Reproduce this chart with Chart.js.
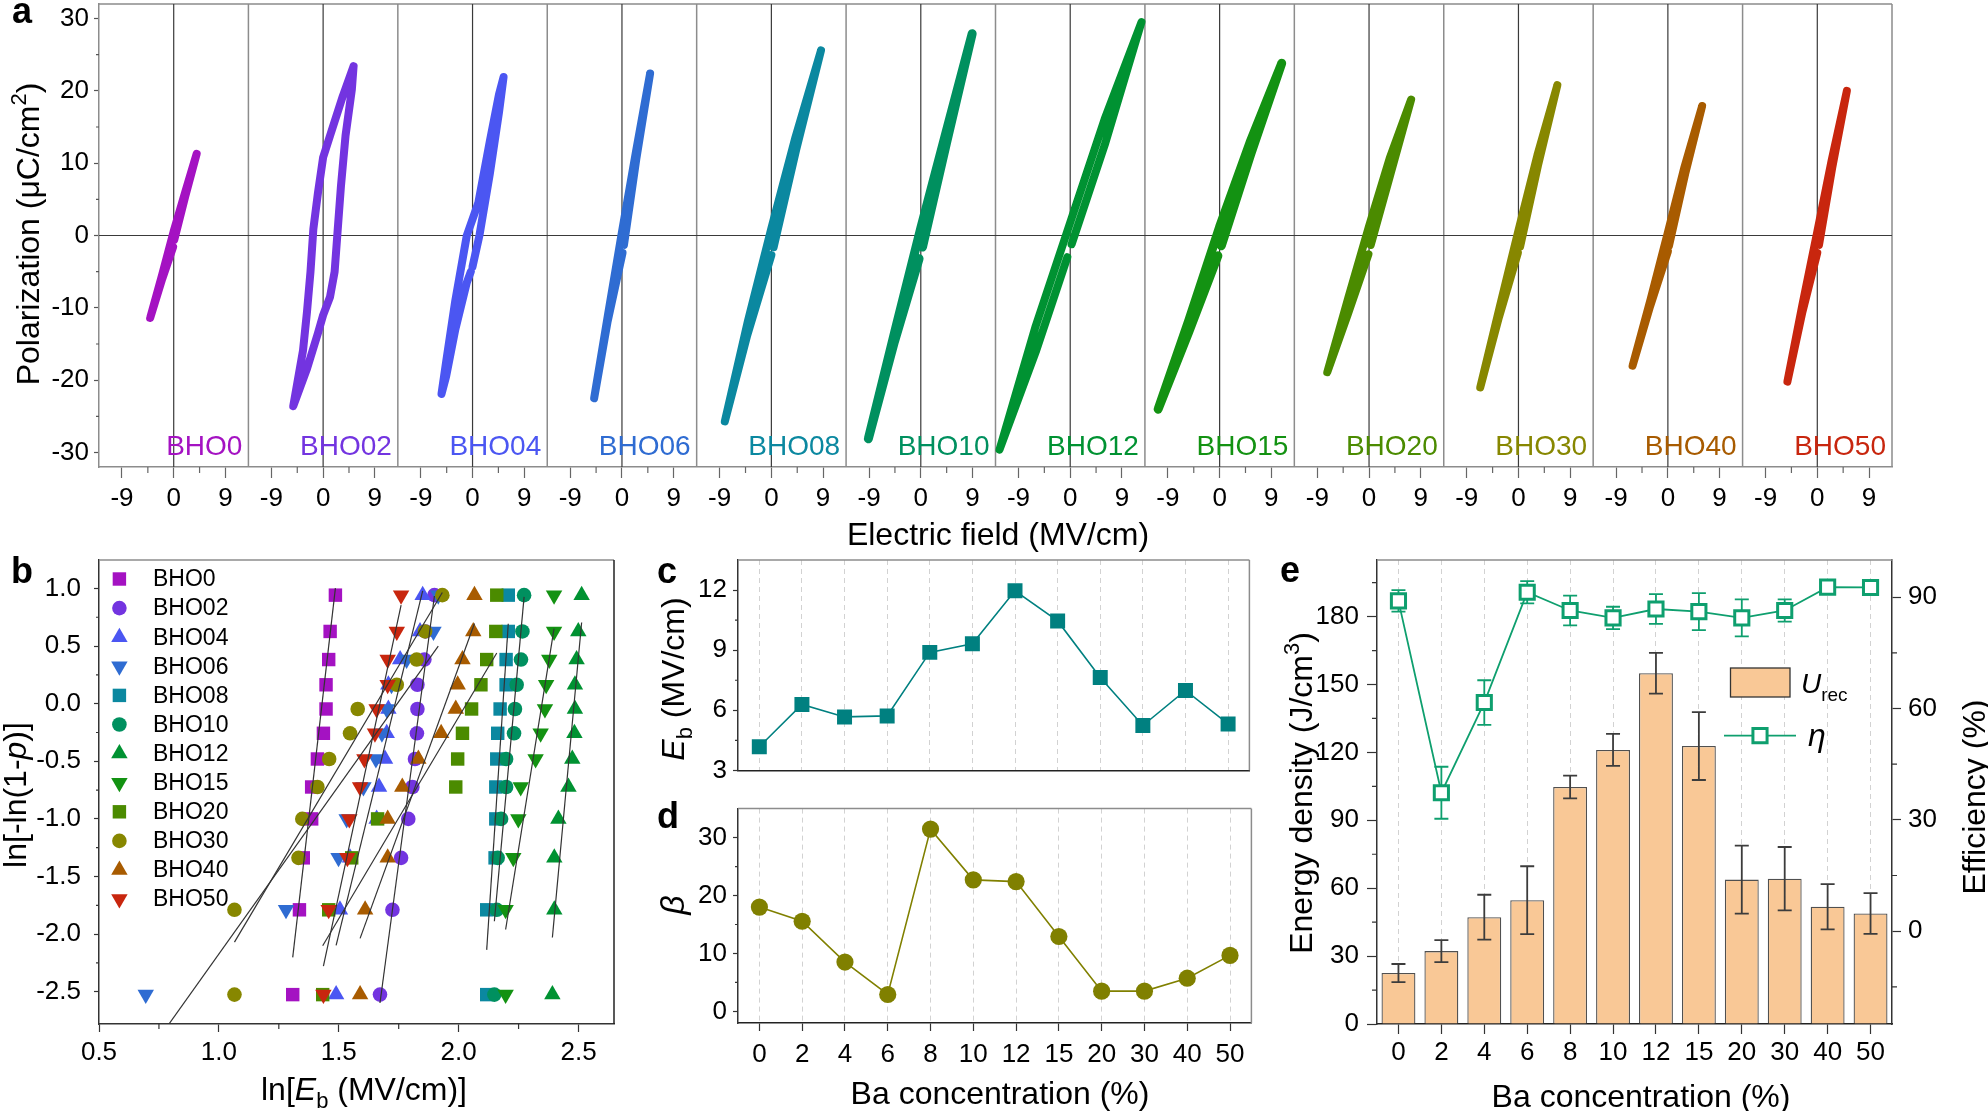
<!DOCTYPE html>
<html>
<head>
<meta charset="utf-8">
<title>BHO films</title>
<script src="https://cdn.jsdelivr.net/npm/chart.js@4.4.1/dist/chart.umd.min.js"></script>
<style>
  html, body { margin: 0; padding: 0; background: #fff; }
  #fig { position: relative; width: 1988px; height: 1111px; overflow: hidden; background: #fff; }
  #fig canvas { position: absolute; }
</style>
</head>
<body>
<div id="fig">
  <canvas id="pa" width="1900" height="560" style="left:0px;top:0px"></canvas>
  <canvas id="pb" width="625" height="566" style="left:0px;top:545px"></canvas>
  <canvas id="pc" width="640" height="236" style="left:620px;top:545px"></canvas>
  <canvas id="pd" width="640" height="311" style="left:620px;top:800px"></canvas>
  <canvas id="pe" width="728" height="566" style="left:1260px;top:545px"></canvas>
</div>
<script>
// ── Data ───────────────────────────────────────────────
const SAMPLES = ['BHO0', 'BHO02', 'BHO04', 'BHO06', 'BHO08', 'BHO10', 'BHO12', 'BHO15', 'BHO20', 'BHO30', 'BHO40', 'BHO50'];
const CONC    = ['0', '2', '4', '6', '8', '10', '12', '15', '20', '30', '40', '50'];

// P-E loops, [E (MV/cm), P (µC/cm²)] in measuring order
const peBHO0  = [[0.1, -0.6], [2.0, 5.4], [4.0, 11.3], [2.0, 6.0], [0, 0.6], [-2.0, -5.4], [-4.1, -11.4], [-2.0, -6.0], [-0.1, -1.6]];
const peBHO02 = [[5.3, 23.4], [3.4, 19.2], [1.2, 13.8], [0, 10.8], [-0.9, 5.9], [-1.7, 0.9], [-2.2, -5.0], [-2.8, -10.5], [-3.5, -15.9], [-5.2, -23.6],
                 [-2.8, -18.4], [-0.9, -13.5], [0, -11.0], [1.2, -8.5], [2.0, -5.0], [2.5, 0.4], [3.1, 6.8], [3.9, 13.8], [5.0, 20.2], [5.3, 23.4]];
const peBHO04 = [[0, -4.3], [1.2, 0], [3.0, 8.5], [4.6, 17.0], [5.4, 21.9], [4.6, 19.5], [3.0, 13.0], [1.0, 4.5], [-1.0, 0], [-3.0, -9.0],
                 [-4.6, -17.5], [-5.4, -21.9], [-4.6, -19.5], [-3.0, -13.0], [-1.0, -6.5], [-0.3, -5.0]];
const peBHO06 = [[0.35, -1.3], [2.5, 10.6], [4.9, 22.4], [2.4, 11.4], [0, 0.5], [-2.4, -10.8], [-4.84, -22.5], [-2.5, -11.9], [0.1, -2.4]];
const peBHO08 = [[0.4, -1.6], [4.3, 11.8], [8.64, 25.6], [4.2, 13.6], [0, 1.0], [-4.1, -11.9], [-8.1, -25.7], [-4.2, -13.8], [0, -2.7]];
const peBHO10 = [[0.3, -1.6], [4.5, 12.9], [8.94, 27.9], [4.4, 14.3], [0, 1.0], [-4.5, -13.2], [-9.13, -28.1], [-4.6, -14.7], [-0.3, -3.2]];
const peBHO12 = [[0.25, -1.2], [6.0, 12.5], [12.4, 29.5], [6.0, 16.1], [0, 1.8], [-6.0, -12.5], [-12.3, -29.6], [-6.0, -16.1], [-0.5, -3.0]];
const peBHO15 = [[0.3, -1.4], [5.4, 11.2], [10.8, 23.8], [5.3, 12.9], [0, 1.2], [-5.3, -11.6], [-10.7, -24.0], [-5.4, -13.4], [-0.3, -2.8]];
const peBHO20 = [[0.3, -1.3], [3.7, 8.4], [7.33, 18.8], [3.6, 10.7], [0, 1.3], [-3.6, -8.6], [-7.27, -18.9], [-3.7, -10.9], [-0.1, -2.6]];
const peBHO30 = [[0.3, -1.5], [3.4, 9.7], [6.77, 20.8], [3.3, 11.1], [0, 0.7], [-3.3, -10.0], [-6.65, -21.0], [-3.4, -11.3], [-0.1, -2.4]];
const peBHO40 = [[0.2, -1.4], [3.0, 8.5], [5.96, 17.9], [2.9, 9.5], [0, 0.4], [-3.0, -8.8], [-6.14, -18.0], [-3.1, -9.8], [0, -2.2]];
const peBHO50 = [[0.3, -1.3], [2.6, 9.4], [5.15, 20.0], [2.5, 10.4], [0, 0.5], [-2.6, -9.6], [-5.2, -20.2], [-2.6, -10.6], [0, -2.4]];
const PE_LOOPS = [peBHO0, peBHO02, peBHO04, peBHO06, peBHO08, peBHO10, peBHO12, peBHO15, peBHO20, peBHO30, peBHO40, peBHO50];
const PE_TICKS = [-9, 0, 9];
const PE_MINOR = [-4.5, 4.5];
const P_TICKS  = [-30, -20, -10, 0, 10, 20, 30];
const P_MINOR  = [-25, -15, -5, 5, 15, 25];

// Weibull plot: ln[-ln(1-p)] for the 12 ranks, ln(Eb) of each sample from high to low
const WEIBULL_Y = [0.942, 0.627, 0.383, 0.164, -0.046, -0.257, -0.480, -0.723, -1.000, -1.338, -1.789, -2.525];
const wbBHO0  = [1.486, 1.464, 1.458, 1.447, 1.447, 1.436, 1.411, 1.387, 1.387, 1.352, 1.336, 1.308];
const wbBHO02 = [1.899, 1.862, 1.857, 1.828, 1.828, 1.826, 1.818, 1.807, 1.790, 1.760, 1.724, 1.672];
const wbBHO04 = [1.850, 1.839, 1.756, 1.707, 1.707, 1.700, 1.693, 1.668, 1.658, 1.547, 1.505, 1.489];
const wbBHO06 = [1.915, 1.895, 1.783, 1.720, 1.700, 1.680, 1.655, 1.603, 1.533, 1.499, 1.280, 0.695];
const wbBHO08 = [2.207, 2.207, 2.198, 2.198, 2.173, 2.163, 2.159, 2.155, 2.155, 2.152, 2.117, 2.117];
const wbBHO10 = [2.273, 2.266, 2.260, 2.242, 2.235, 2.231, 2.198, 2.198, 2.177, 2.163, 2.159, 2.149];
const wbBHO12 = [2.513, 2.499, 2.492, 2.485, 2.485, 2.483, 2.474, 2.458, 2.416, 2.399, 2.399, 2.391];
const wbBHO15 = [2.398, 2.398, 2.378, 2.365, 2.360, 2.342, 2.321, 2.259, 2.249, 2.228, 2.196, 2.196];
const wbBHO20 = [2.159, 2.155, 2.117, 2.093, 2.054, 2.016, 1.996, 1.988, 1.662, 1.554, 1.458, 1.433];
const wbBHO30 = [1.932, 1.860, 1.825, 1.742, 1.579, 1.547, 1.460, 1.411, 1.348, 1.332, 1.065, 1.065];
const wbBHO40 = [2.066, 2.061, 2.016, 1.996, 1.988, 1.927, 1.832, 1.765, 1.704, 1.704, 1.610, 1.589];
const wbBHO50 = [1.760, 1.742, 1.704, 1.704, 1.658, 1.651, 1.607, 1.589, 1.544, 1.536, 1.458, 1.436];
const WB_SETS = [wbBHO0, wbBHO02, wbBHO04, wbBHO06, wbBHO08, wbBHO10, wbBHO12, wbBHO15, wbBHO20, wbBHO30, wbBHO40, wbBHO50];
const WB_X_TICKS = [0.5, 1.0, 1.5, 2.0, 2.5];
const WB_Y_TICKS = [-2.5, -2.0, -1.5, -1.0, -0.5, 0, 0.5, 1.0];

// Weibull fit results per sample
const EB   = [4.18, 6.29, 5.67, 5.72, 8.89, 9.32, 11.96, 10.46, 7.64, 5.24, 6.99, 5.32];
const BETA = [18.0, 15.56, 8.52, 2.92, 31.46, 22.7, 22.4, 12.93, 3.5, 3.5, 5.73, 9.67];

// Energy storage
const U_REC     = [22.5, 32.2, 47.2, 54.7, 104.7, 121.1, 155.0, 122.8, 63.8, 64.2, 51.8, 48.8];
const U_REC_ERR = [4.0, 4.9, 9.9, 15.0, 5.0, 7.1, 9.0, 15.0, 15.0, 14.0, 10.0, 9.0];
const ETA       = [89.0, 37.3, 61.6, 91.3, 86.4, 84.4, 86.8, 86.1, 84.4, 86.4, 92.7, 92.6];
const ETA_ERR   = [2.9, 7.0, 6.0, 3.0, 4.0, 3.0, 4.0, 5.0, 5.0, 3.0, 1.0, 1.0];

// ── Styles ─────────────────────────────────────────────
const FONT = '"Liberation Sans", Arial, Helvetica, sans-serif';
const SAMPLE_COLORS = ['#a412c2', '#7334e0', '#4b56f2', '#2f6cd2', '#0b88a0', '#00905f',
                       '#009232', '#139212', '#4b8b00', '#878700', '#a85b00', '#c8260e'];
const LOOP_WIDTH = [8, 8, 8, 8, 8, 9, 8, 9, 8, 8, 8, 8];
const MARKERS  = [['rect', 0], ['circle', 0], ['triangle', 0], ['triangle', 180]];
const MARKER_R = { rect: 9.5, circle: 7.3, triangle: 9.5 };
const EB_COLOR   = '#008080';
const BETA_COLOR = '#808000';
const BAR_COLOR  = '#f9c896';
const ETA_COLOR  = '#0e9f6e';
const GRID_DASH  = '#d2d2d2';
const SUB_SPAN   = 26; // each P-E subplot covers -13..13 MV/cm

Chart.defaults.font.family = FONT;
Chart.defaults.font.size = 26;
Chart.defaults.color = '#000';
Chart.defaults.animation = false;
Chart.defaults.responsive = false;
Chart.defaults.devicePixelRatio = 1;
Chart.defaults.events = [];
Chart.defaults.plugins.legend.display = false;
Chart.defaults.plugins.tooltip.enabled = false;

// ── Helpers ────────────────────────────────────────────
function boxFit(size) {
  return scale => {
    if (scale.isHorizontal()) scale.height = size; else scale.width = size;
    scale.paddingLeft = scale.paddingRight = scale.paddingTop = scale.paddingBottom = 0;
  };
}
function fixedTicks(values) {
  return scale => { scale.ticks = values.map(value => ({ value })); };
}
function axisY({ min, max, ticks, width, tickLen, pad, pos = 'left', border = '#333', tick = '#333', fmt }) {
  return {
    type: 'linear', position: pos, min, max, bounds: 'data',
    afterBuildTicks: fixedTicks(ticks),
    afterFit: boxFit(width),
    border: { color: border, width: 1.5 },
    grid: { drawOnChartArea: false, tickLength: tickLen, color: tick, tickWidth: 1.2 },
    ticks: { padding: pad, callback: fmt || (v => String(v)) },
  };
}
function minorTicks(chart, axisId, values, len, color = '#333') {
  const s = chart.scales[axisId];
  const { ctx } = chart;
  ctx.save();
  ctx.strokeStyle = color; ctx.lineWidth = 1.2;
  ctx.beginPath();
  for (const v of values) {
    const p = s.getPixelForValue(v);
    if (s.isHorizontal()) { ctx.moveTo(p, s.top); ctx.lineTo(p, s.top + len); }
    else if (s.position === 'right') { ctx.moveTo(s.left, p); ctx.lineTo(s.left + len, p); }
    else { ctx.moveTo(s.right - len, p); ctx.lineTo(s.right, p); }
  }
  ctx.stroke();
  ctx.restore();
}
function frame(ctx, a, topColor, rightColor) {
  ctx.save();
  ctx.lineWidth = 1.5;
  ctx.strokeStyle = topColor;
  ctx.beginPath(); ctx.moveTo(a.left, a.top); ctx.lineTo(a.right, a.top); ctx.stroke();
  if (rightColor) {
    ctx.strokeStyle = rightColor;
    ctx.beginPath(); ctx.moveTo(a.right, a.top); ctx.lineTo(a.right, a.bottom); ctx.stroke();
  }
  ctx.restore();
}
// mixed-style text: parts are {t, it, sub, sup}; y is the cap-height centre
function rich(ctx, x, y, parts, size, { rotate = 0, align = 'center', color = '#000' } = {}) {
  const font = p => `${p.it ? 'italic ' : ''}${p.sub || p.sup ? Math.round(size * 0.68) : size}px ${FONT}`;
  ctx.save();
  ctx.translate(x, y);
  ctx.rotate(rotate);
  ctx.fillStyle = color;
  ctx.textAlign = 'left';
  ctx.textBaseline = 'alphabetic';
  let total = 0;
  for (const p of parts) { ctx.font = font(p); total += ctx.measureText(p.t).width; }
  let cx = align === 'center' ? -total / 2 : align === 'right' ? -total : 0;
  const base = size * 0.36;
  for (const p of parts) {
    ctx.font = font(p);
    const dy = p.sub ? size * 0.28 : p.sup ? -size * 0.4 : 0;
    ctx.fillText(p.t, cx, base + dy);
    cx += ctx.measureText(p.t).width;
  }
  ctx.restore();
}
function letter(ctx, ch, x, baseline) {
  ctx.save();
  ctx.font = `bold 36px ${FONT}`;
  ctx.fillStyle = '#000';
  ctx.textAlign = 'left';
  ctx.textBaseline = 'alphabetic';
  ctx.fillText(ch, x, baseline);
  ctx.restore();
}
const UP = -Math.PI / 2;

// ── a: P-E loops ───────────────────────────────────────
const peDecor = {
  id: 'peDecor',
  beforeDatasetsDraw(chart) {
    const { ctx, chartArea: a, scales: { x, y } } = chart;
    ctx.save();
    ctx.strokeStyle = '#8c8c8c'; ctx.lineWidth = 1.5;
    ctx.beginPath();
    for (let i = 1; i <= SAMPLES.length; i++) {
      const px = x.getPixelForValue(i * SUB_SPAN);
      ctx.moveTo(px, a.top); ctx.lineTo(px, a.bottom);
    }
    ctx.moveTo(a.left, a.top); ctx.lineTo(a.right, a.top);
    ctx.stroke();
    ctx.strokeStyle = '#3a3a3a'; ctx.lineWidth = 1.2;
    ctx.beginPath();
    for (let i = 0; i < SAMPLES.length; i++) {
      const px = x.getPixelForValue(i * SUB_SPAN + SUB_SPAN / 2);
      ctx.moveTo(px, a.top); ctx.lineTo(px, a.bottom);
    }
    const py = y.getPixelForValue(0);
    ctx.moveTo(a.left, py); ctx.lineTo(a.right, py);
    ctx.stroke();
    ctx.restore();
  },
  afterDraw(chart) {
    const { ctx, chartArea: a, scales: { x } } = chart;
    minorTicks(chart, 'x', SAMPLES.flatMap((_, i) => PE_MINOR.map(v => i * SUB_SPAN + SUB_SPAN / 2 + v)), 6, '#666');
    minorTicks(chart, 'y', P_MINOR, 3, '#555');
    ctx.save();
    ctx.font = `28px ${FONT}`;
    ctx.textAlign = 'right';
    ctx.textBaseline = 'alphabetic';
    SAMPLES.forEach((name, i) => {
      ctx.fillStyle = SAMPLE_COLORS[i];
      ctx.fillText(name, x.getPixelForValue((i + 1) * SUB_SPAN) - 6, a.bottom - 12);
    });
    ctx.restore();
    rich(ctx, 27, 234, [{ t: 'Polarization (\u03bcC/cm' }, { t: '2', sup: true }, { t: ')' }], 32, { rotate: UP });
    rich(ctx, 998, 533, [{ t: 'Electric field (MV/cm)' }], 32);
    letter(ctx, 'a', 12, 23);
  },
};

new Chart(document.getElementById('pa'), {
  type: 'line',
  data: {
    datasets: PE_LOOPS.map((loop, i) => ({
      data: loop.map(([e, p]) => ({ x: i * SUB_SPAN + SUB_SPAN / 2 + e, y: p })),
      borderColor: SAMPLE_COLORS[i],
      borderWidth: LOOP_WIDTH[i],
      borderCapStyle: 'round',
      borderJoinStyle: 'round',
      pointRadius: 0,
      fill: false,
    })),
  },
  options: {
    layout: { padding: { left: 0, right: 8, top: 4, bottom: 0 } },
    scales: {
      x: {
        type: 'linear', min: 0, max: SUB_SPAN * SAMPLES.length, bounds: 'data',
        afterBuildTicks: s => {
          s.ticks = SAMPLES.flatMap((_, i) => PE_TICKS.map(v => ({ value: i * SUB_SPAN + SUB_SPAN / 2 + v })));
        },
        afterFit: boxFit(93),
        border: { color: '#8c8c8c', width: 1.5 },
        grid: { drawOnChartArea: false, tickLength: 11, color: '#666', tickWidth: 1.2 },
        ticks: {
          padding: 5, autoSkip: false, maxRotation: 0, minRotation: 0,
          callback: v => String(Math.round(v - Math.floor(v / SUB_SPAN) * SUB_SPAN - SUB_SPAN / 2)),
        },
      },
      y: axisY({ min: -32, max: 32, ticks: P_TICKS, width: 99, tickLen: 5, pad: 5, border: '#8c8c8c', tick: '#555' }),
    },
  },
  plugins: [peDecor],
});

// ── b: Weibull plot ────────────────────────────────────
const wbDecor = {
  id: 'wbDecor',
  afterDraw(chart) {
    const { ctx, chartArea: a } = chart;
    frame(ctx, a, '#8c8c8c', '#222');
    minorTicks(chart, 'x', [0.75, 1.25, 1.75, 2.25], 5);
    minorTicks(chart, 'y', [-2.25, -1.75, -1.25, -0.75, -0.25, 0.25, 0.75], 3);
    SAMPLES.forEach((name, i) => {
      const [style, rot] = MARKERS[i % 4];
      const yy = 34 + i * 29.1;
      ctx.save();
      ctx.fillStyle = SAMPLE_COLORS[i];
      Chart.helpers.drawPoint(ctx, { pointStyle: style, rotation: rot, radius: MARKER_R[style], borderWidth: 0 }, 119.4, yy);
      ctx.font = `23px ${FONT}`;
      ctx.fillStyle = '#000';
      ctx.textAlign = 'left';
      ctx.textBaseline = 'middle';
      ctx.fillText(name, 153, yy + 1);
      ctx.restore();
    });
    rich(ctx, 14, 250, [{ t: 'ln[-ln(1-' }, { t: 'p', it: true }, { t: ')]' }], 32, { rotate: UP });
    rich(ctx, 364, 543, [{ t: 'ln[' }, { t: 'E', it: true }, { t: 'b', sub: true }, { t: ' (MV/cm)]' }], 32);
    letter(ctx, 'b', 11, 38);
  },
};

new Chart(document.getElementById('pb'), {
  type: 'scatter',
  data: {
    datasets: [
      ...WB_SETS.map((xs, i) => {
        const lo = Math.min(...xs), hi = Math.max(...xs), c = Math.log(EB[i]);
        return {
          data: [{ x: lo, y: BETA[i] * (lo - c) }, { x: hi, y: BETA[i] * (hi - c) }],
          showLine: true, pointRadius: 0, borderColor: '#333', borderWidth: 1.2, order: 0,
        };
      }),
      ...WB_SETS.map((xs, i) => {
        const [style, rot] = MARKERS[i % 4];
        return {
          data: xs.map((v, k) => ({ x: v, y: WEIBULL_Y[k] })),
          pointStyle: style, pointRotation: rot, pointRadius: MARKER_R[style],
          pointBackgroundColor: SAMPLE_COLORS[i], pointBorderWidth: 0,
          order: SAMPLES.length - i,
        };
      }),
    ],
  },
  options: {
    layout: { padding: { left: 0, right: 11, top: 15, bottom: 0 } },
    scales: {
      x: {
        type: 'linear', min: 0.5, max: 2.648, bounds: 'data',
        afterBuildTicks: fixedTicks(WB_X_TICKS),
        afterFit: boxFit(87),
        border: { color: '#333', width: 1.5 },
        grid: { drawOnChartArea: false, tickLength: 8, color: '#333', tickWidth: 1.2 },
        ticks: { padding: 5, maxRotation: 0, callback: v => v.toFixed(1) },
      },
      y: axisY({ min: -2.78, max: 1.247, ticks: WB_Y_TICKS, width: 99, tickLen: 5, pad: 13, fmt: v => v.toFixed(1) }),
    },
  },
  plugins: [wbDecor],
});

// ── c: breakdown strength ──────────────────────────────
function catAxis({ height, labels, tickLen = 0, pad = 3 }) {
  return {
    type: 'category', offset: true,
    afterFit: boxFit(height),
    border: { color: '#222', width: 1.5, dash: [5, 4] },
    grid: { offset: false, color: GRID_DASH, lineWidth: 1, drawTicks: tickLen > 0, tickLength: tickLen, tickColor: '#333', tickWidth: 1.2 },
    ticks: { display: labels, padding: pad, autoSkip: false, maxRotation: 0 },
  };
}

new Chart(document.getElementById('pc'), {
  type: 'line',
  data: {
    labels: CONC,
    datasets: [{
      data: EB, borderColor: EB_COLOR, borderWidth: 1.6,
      pointStyle: 'rect', pointRadius: 10.6, pointBackgroundColor: EB_COLOR, pointBorderWidth: 0,
    }],
  },
  options: {
    layout: { padding: { left: 0, right: 7, top: 15, bottom: 0 } },
    scales: {
      x: catAxis({ height: 5, labels: false }),
      y: axisY({ min: 3, max: 13.5, ticks: [3, 6, 9, 12], width: 118, tickLen: 5, pad: 6 }),
    },
  },
  plugins: [{
    id: 'ebDecor',
    afterDraw(chart) {
      const { ctx, chartArea: a } = chart;
      frame(ctx, a, '#8c8c8c', '#8c8c8c');
      minorTicks(chart, 'y', [4.5, 7.5, 10.5], 3);
      rich(ctx, 52, 134, [{ t: 'E', it: true }, { t: 'b', sub: true }, { t: ' (MV/cm)' }], 32, { rotate: UP });
      letter(ctx, 'c', 37, 38);
    },
  }],
});

// ── d: Weibull modulus ─────────────────────────────────
new Chart(document.getElementById('pd'), {
  type: 'line',
  data: {
    labels: CONC,
    datasets: [{
      data: BETA, borderColor: BETA_COLOR, borderWidth: 1.6,
      pointStyle: 'circle', pointRadius: 8.6, pointBackgroundColor: BETA_COLOR, pointBorderWidth: 0,
    }],
  },
  options: {
    layout: { padding: { left: 0, right: 7, top: 7, bottom: 0 } },
    scales: {
      x: catAxis({ height: 88, labels: true, tickLen: 8, pad: 8 }),
      y: axisY({ min: -2, max: 35, ticks: [0, 10, 20, 30], width: 118, tickLen: 5, pad: 6 }),
    },
  },
  plugins: [{
    id: 'betaDecor',
    afterDraw(chart) {
      const { ctx, chartArea: a } = chart;
      frame(ctx, a, '#8c8c8c', '#8c8c8c');
      minorTicks(chart, 'y', [5, 15, 25], 3);
      rich(ctx, 52, 105, [{ t: '\u03b2', it: true }], 34, { rotate: UP });
      rich(ctx, 380, 292, [{ t: 'Ba concentration (%)' }], 32);
      letter(ctx, 'd', 37, 28);
    },
  }],
});

// ── e: energy density and efficiency ───────────────────
const errorBars = {
  id: 'errorBars',
  afterDatasetDraw(chart, args) {
    if (args.index !== 0) return;
    const { ctx } = chart;
    const draw = (meta, vals, errs, scale, color) => {
      ctx.save();
      ctx.strokeStyle = color; ctx.lineWidth = 1.8;
      ctx.beginPath();
      meta.data.forEach((el, i) => {
        const top = scale.getPixelForValue(vals[i] + errs[i]);
        const bot = scale.getPixelForValue(vals[i] - errs[i]);
        ctx.moveTo(el.x, top); ctx.lineTo(el.x, bot);
        ctx.moveTo(el.x - 7, top); ctx.lineTo(el.x + 7, top);
        ctx.moveTo(el.x - 7, bot); ctx.lineTo(el.x + 7, bot);
      });
      ctx.stroke();
      ctx.restore();
    };
    draw(chart.getDatasetMeta(0), U_REC, U_REC_ERR, chart.scales.y, '#3c3c3c');
    draw(chart.getDatasetMeta(1), ETA, ETA_ERR, chart.scales.y1, ETA_COLOR);
  },
};

new Chart(document.getElementById('pe'), {
  type: 'bar',
  data: {
    labels: CONC,
    datasets: [
      {
        type: 'bar', data: U_REC, yAxisID: 'y', order: 2,
        backgroundColor: BAR_COLOR, borderColor: '#505050', borderWidth: 1.3,
        barPercentage: 0.79, categoryPercentage: 1.0,
      },
      {
        type: 'line', data: ETA, yAxisID: 'y1', order: 1,
        borderColor: ETA_COLOR, borderWidth: 1.8,
        pointStyle: 'rect', pointRadius: 10, pointBorderWidth: 3,
        pointBackgroundColor: '#fff', pointBorderColor: ETA_COLOR,
      },
    ],
  },
  options: {
    layout: { padding: { left: 0, right: 0, top: 15, bottom: 0 } },
    scales: {
      x: catAxis({ height: 87, labels: true, tickLen: 10, pad: 3 }),
      y: axisY({ min: 0, max: 205, ticks: [0, 30, 60, 90, 120, 150, 180], width: 117, tickLen: 10, pad: 8 }),
      y1: axisY({ min: -25, max: 100, ticks: [0, 30, 60, 90], width: 96, tickLen: 9, pad: 7, pos: 'right' }),
    },
  },
  plugins: [errorBars, {
    id: 'energyDecor',
    afterDraw(chart) {
      const { ctx, chartArea: a } = chart;
      frame(ctx, a, '#8c8c8c', null);
      minorTicks(chart, 'y', [15, 45, 75, 105, 135, 165, 195], 5);
      minorTicks(chart, 'y1', [-15, 15, 45, 75], 5);
      // legend
      ctx.save();
      ctx.fillStyle = BAR_COLOR; ctx.strokeStyle = '#333'; ctx.lineWidth = 1.3;
      ctx.fillRect(470.5, 123, 59.5, 29); ctx.strokeRect(470.5, 123, 59.5, 29);
      ctx.strokeStyle = ETA_COLOR; ctx.lineWidth = 1.8;
      ctx.beginPath(); ctx.moveTo(464, 190.6); ctx.lineTo(536, 190.6); ctx.stroke();
      ctx.fillStyle = '#fff'; ctx.lineWidth = 3;
      Chart.helpers.drawPoint(ctx, { pointStyle: 'rect', rotation: 0, radius: 10, borderWidth: 3 }, 500, 190.6);
      ctx.restore();
      rich(ctx, 541, 138, [{ t: 'U', it: true }, { t: 'rec', sub: true }], 28, { align: 'left' });
      rich(ctx, 548, 189, [{ t: '\u03b7', it: true }], 32, { align: 'left' });
      rich(ctx, 40, 248, [{ t: 'Energy density (J/cm' }, { t: '3', sup: true }, { t: ')' }], 32, { rotate: UP });
      rich(ctx, 713, 252, [{ t: 'Efficiency (%)' }], 32, { rotate: UP });
      rich(ctx, 381, 550, [{ t: 'Ba concentration (%)' }], 32);
      letter(ctx, 'e', 20, 37);
    },
  }],
});
</script>
</body>
</html>
